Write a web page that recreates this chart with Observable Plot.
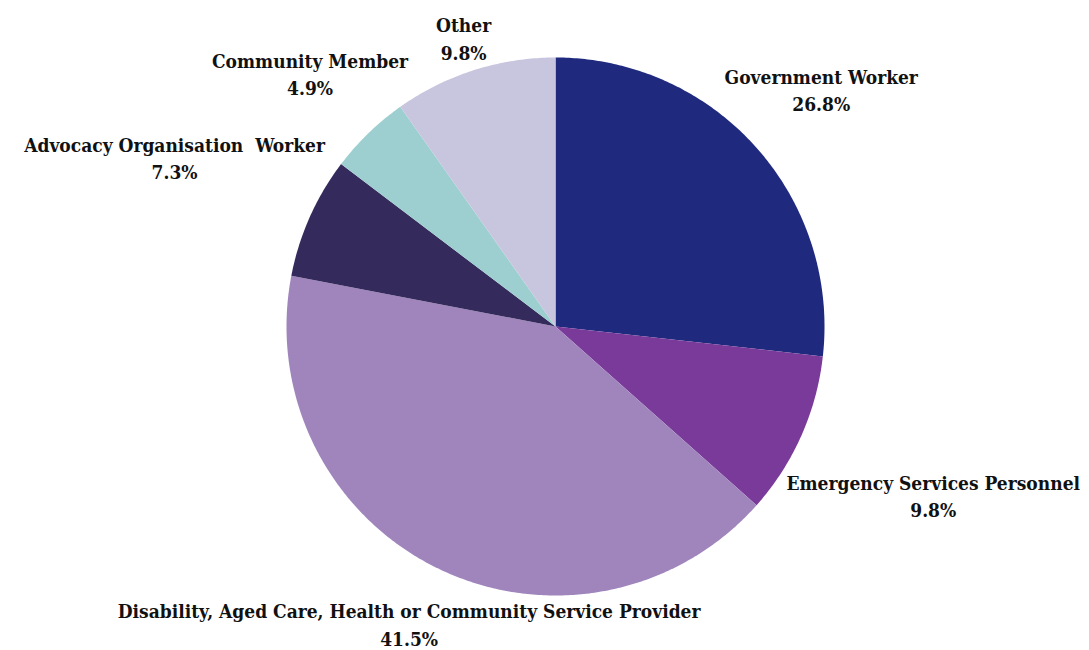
<!DOCTYPE html>
<html><head><meta charset="utf-8">
<script src="https://cdn.jsdelivr.net/npm/d3@7"></script>
<script src="https://cdn.jsdelivr.net/npm/@observablehq/plot@0.6"></script>
<style>body{margin:0;background:#fff}</style>
</head><body><div id="chart"></div>
<script>
const categories = ["Government Worker","Emergency Services Personnel","Disability, Aged Care, Health or Community Service Provider","Advocacy Organisation  Worker","Community Member","Other"];
const values = [26.8, 9.8, 41.5, 7.3, 4.9, 9.8];
const colors = ["#1f2a7e","#7a3a9a","#a085bd","#342a5c","#9ecfd0","#c8c5de"];

const W = 1089, H = 650, CX = 555, CY = 326, RPX = 269;
const k = RPX; // px per unit
const fontFamily = "'DejaVu Serif Condensed', 'DejaVu Serif', serif";
const fontSize = 19, lineHeight = 1.45, gap = 3;

const total = d3.sum(values);
let acc = 0;
const slices = categories.map((name, i) => {
  const a0 = acc / total * 2 * Math.PI; acc += values[i];
  const a1 = acc / total * 2 * Math.PI;
  return {name, value: values[i], a0, a1, mid: (a0 + a1) / 2};
});

// polygon points per slice
const pts = [];
for (const s of slices) {
  pts.push({name: s.name, x: 0, y: 0});
  const n = Math.max(2, Math.ceil((s.a1 - s.a0) / 0.01));
  for (let j = 0; j <= n; j++) {
    const a = s.a0 + (s.a1 - s.a0) * j / n;
    pts.push({name: s.name, x: Math.sin(a), y: Math.cos(a)});
  }
  pts.push({name: s.name, x: 0, y: 0});
}

// label placement outside the pie
const ctx = document.createElement("canvas").getContext("2d");
ctx.font = `bold ${fontSize}px ${fontFamily}`;
const labels = slices.map(s => {
  const t1 = s.name, t2 = s.value.toFixed(1) + "%";
  const w = Math.max(ctx.measureText(t1).width, ctx.measureText(t2).width);
  const h = fontSize * lineHeight * 2 - 6;
  const dx = Math.sin(s.mid), dy = -Math.cos(s.mid); // pixel dir
  let R = RPX * 0.5;
  for (; R < 600; R += 0.5) {
    const bx = R * dx, by = R * dy;
    const nx = Math.max(bx - w / 2, Math.min(0, bx + w / 2));
    const ny = Math.max(by - h / 2, Math.min(0, by + h / 2));
    if (Math.hypot(nx, ny) >= RPX + gap) break;
  }
  return {text: t1 + "\n" + t2, x: R * dx / k, y: -R * dy / k};
});

const chart = Plot.plot({
  width: W, height: H,
  margin: 0,
  x: {domain: [-CX / k, (W - CX) / k], axis: null},
  y: {domain: [-(H - CY) / k, CY / k], axis: null},
  color: {domain: categories, range: colors},
  marks: [
    Plot.line(pts, {x: "x", y: "y", z: "name", fill: "name", stroke: "none", curve: "linear"}),
    Plot.text(labels, {x: "x", y: "y", text: "text", lineAnchor: "middle", textAnchor: "middle",
      lineHeight, fontSize, fontWeight: "bold", fontFamily, fill: "#111"})
  ]
});
document.getElementById("chart").appendChild(chart);
</script></body></html>
